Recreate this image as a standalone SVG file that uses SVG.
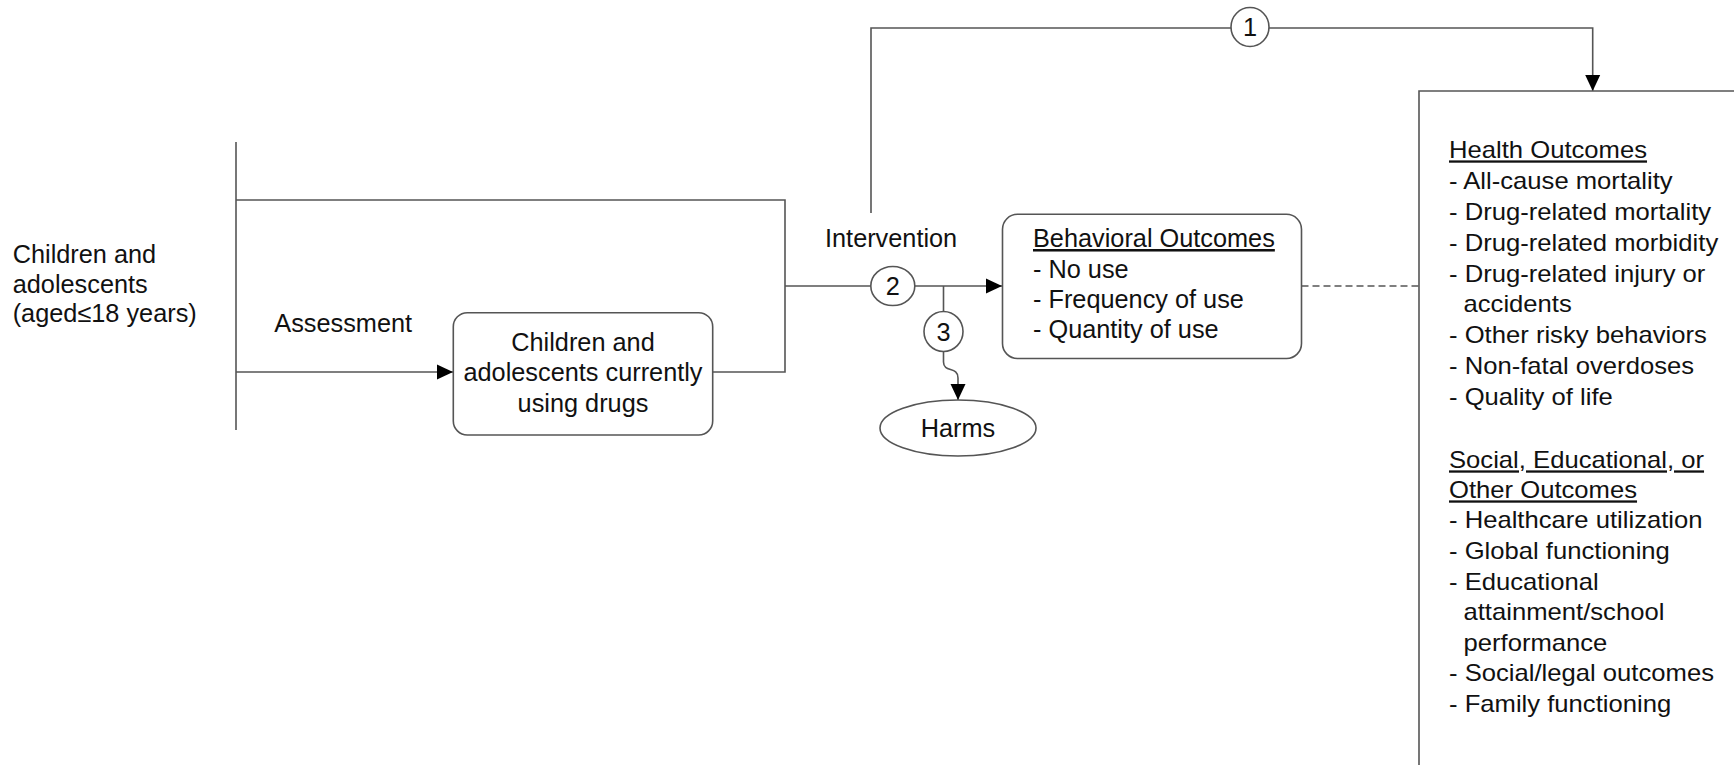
<svg xmlns="http://www.w3.org/2000/svg" width="1734" height="765" viewBox="0 0 1734 765">
<style>
  .ln { fill: none; stroke: #555; stroke-width: 1.6; }
  .box { fill: #fff; stroke: #555; stroke-width: 1.6; }
  .t { font-family: "Liberation Sans", Arial, sans-serif; font-size: 25.3px; fill: #111; }
  .tl { font-family: "Liberation Sans", Arial, sans-serif; font-size: 25.3px; fill: #111; }
  .tr { font-family: "Liberation Sans", Arial, sans-serif; font-size: 23px; fill: #111; }
  .u { text-decoration: underline; }
  .c { text-anchor: middle; }
</style>
<defs>
  <marker id="ah" markerUnits="userSpaceOnUse" markerWidth="17" markerHeight="16" refX="16" refY="8" orient="auto">
    <path d="M0,0.5 L16,8 L0,15.5 Z" fill="#000"/>
  </marker>
</defs>

<g id="connectors">
  <path class="ln" d="M236,142 V430"/>
  <path class="ln" d="M236,200 H785 V372 H712.7"/>
  <path class="ln" d="M236,372 H453" marker-end="url(#ah)"/>
  <path class="ln" d="M785,286 H871"/>
  <path class="ln" d="M914.8,286 H1002" marker-end="url(#ah)"/>
  <path class="ln" d="M943.5,286 V311.5"/>
  <path class="ln" d="M943.5,351.5 V362 C943.5,373 958,366 958,378 V400" marker-end="url(#ah)"/>
  <path class="ln" d="M871,213 V28 H1231"/>
  <path class="ln" d="M1269,28 H1592.7 V91" marker-end="url(#ah)"/>
  <path class="ln" d="M1301.5,286 H1419" stroke-dasharray="7,4"/>
</g>

<g id="population">
  <text class="tl" x="12.7" y="263">Children and</text>
  <text class="tl" x="12.7" y="292.5">adolescents</text>
  <text class="tl" x="12.7" y="322">(aged≤18 years)</text>
</g>

<g id="assessment-label">
  <text class="t" x="274.3" y="332.3">Assessment</text>
</g>

<g id="current-users">
  <rect class="box" x="453.3" y="312.7" width="259.4" height="122.3" rx="14" ry="14"/>
  <text class="t c" x="583" y="351">Children and</text>
  <text class="t c" x="583" y="381">adolescents currently</text>
  <text class="t c" x="583" y="411.5">using drugs</text>
</g>

<g id="intervention-label">
  <text class="t" x="825" y="246.7">Intervention</text>
</g>

<g id="kq1">
  <ellipse class="box" cx="1250" cy="27" rx="19" ry="19.5"/>
  <text class="t c" x="1250" y="36">1</text>
</g>

<g id="kq2">
  <ellipse class="box" cx="892.8" cy="286" rx="22" ry="19.5"/>
  <text class="t c" x="892.8" y="295">2</text>
</g>

<g id="kq3">
  <ellipse class="box" cx="943.5" cy="331.5" rx="19.5" ry="20"/>
  <text class="t c" x="943.5" y="340.5">3</text>
</g>

<g id="harms">
  <ellipse class="box" cx="958" cy="428" rx="78" ry="28"/>
  <text class="t c" x="958" y="437">Harms</text>
</g>

<g id="behavioral-outcomes">
  <rect class="box" x="1002.5" y="214.3" width="299" height="144.2" rx="15" ry="15"/>
  <text class="t u" x="1033" y="247">Behavioral Outcomes</text>
  <text class="t" x="1033" y="277.5">- No use</text>
  <text class="t" x="1033" y="308">- Frequency of use</text>
  <text class="t" x="1033" y="338">- Quantity of use</text>
</g>

<g id="health-outcomes">
  <path class="ln" d="M1419,770 V91 H1740"/>
  <g transform="translate(1449,0) scale(1.115,1)">
    <text class="tr u" x="0" y="158.5">Health Outcomes</text>
    <text class="tr" x="0" y="189.3">- All-cause mortality</text>
    <text class="tr" x="0" y="220">- Drug-related mortality</text>
    <text class="tr" x="0" y="250.8">- Drug-related morbidity</text>
    <text class="tr" x="0" y="281.6">- Drug-related injury or</text>
    <text class="tr" x="13" y="312.4">accidents</text>
    <text class="tr" x="0" y="343.2">- Other risky behaviors</text>
    <text class="tr" x="0" y="374">- Non-fatal overdoses</text>
    <text class="tr" x="0" y="404.8">- Quality of life</text>
    <text class="tr u" x="0" y="468.5">Social, Educational, or</text>
    <text class="tr u" x="0" y="498.5">Other Outcomes</text>
    <text class="tr" x="0" y="528.5">- Healthcare utilization</text>
    <text class="tr" x="0" y="559">- Global functioning</text>
    <text class="tr" x="0" y="589.6">- Educational</text>
    <text class="tr" x="13" y="620.2">attainment/school</text>
    <text class="tr" x="13" y="650.8">performance</text>
    <text class="tr" x="0" y="681.5">- Social/legal outcomes</text>
    <text class="tr" x="0" y="712">- Family functioning</text>
  </g>
</g>
</svg>
